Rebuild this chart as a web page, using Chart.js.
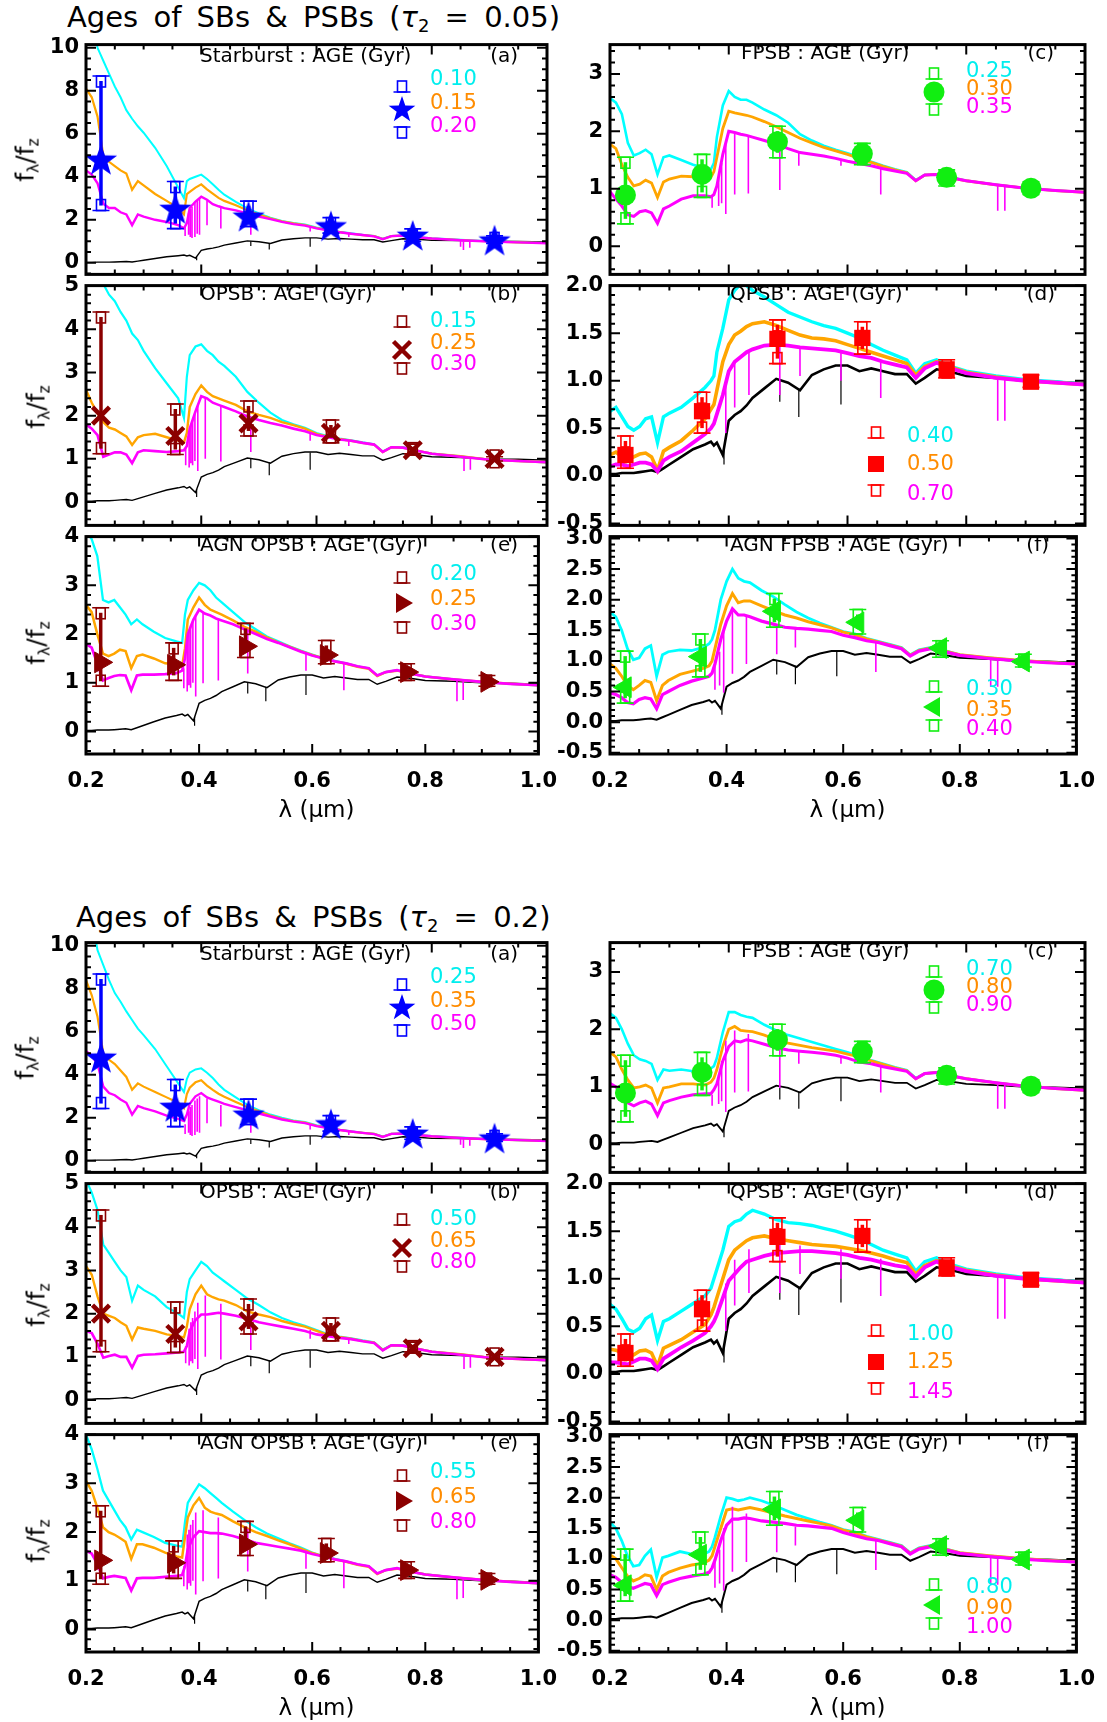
<!DOCTYPE html>
<html>
<head>
<meta charset="utf-8">
<title>Ages of SBs &amp; PSBs</title>
<script src="https://cdn.jsdelivr.net/npm/chart.js@4.4.1/dist/chart.umd.min.js"></script>
<style>
  html, body { margin: 0; padding: 0; background: #fff; }
  body { position: relative; width: 1107px; height: 1722px; overflow: hidden; font-family: "DejaVu Sans", sans-serif; color: #000; }
  canvas { position: absolute; }
  .t { position: absolute; white-space: nowrap; line-height: 1; }
  .t sub { font-size: 0.62em; vertical-align: -0.32em; line-height: 0; }
</style>
</head>
<body>
<script>
// wavelength grid (micron) shared by every spectrum
const LAM = [0.20,0.21,0.22,0.23,0.24,0.25,0.26,0.27,0.28,0.29,0.30,0.32,0.34,0.36,0.37,0.375,0.38,0.39,0.40,0.41,0.42,0.43,0.44,0.46,0.48,0.50,0.52,0.54,0.56,0.58,0.60,0.62,0.64,0.66,0.68,0.70,0.715,0.73,0.75,0.77,0.80,0.85,0.90,0.95,1.00];

// old population (black), same in every panel
const BLACK = [0.02,0.02,0.03,0.03,0.03,0.04,0.05,0.06,0.04,0.08,0.12,0.2,0.28,0.33,0.36,0.32,0.35,0.22,0.58,0.64,0.68,0.74,0.82,0.92,1.02,0.98,0.9,1.06,1.12,1.16,1.16,1.1,1.13,1.1,1.07,1.07,0.97,1.03,1.12,1.1,1.05,1.03,1.0,0.99,0.97];
// absorption lines [lambda, continuum, bottom]
const BLACK_LINES = [[0.392,0.3,0.12],[0.486,1.0,0.78],[0.518,0.92,0.62],[0.589,1.15,0.75]];

// tau2 = 0.05
const SB1_CYAN = [13.0,11.5,10.0,9.4,8.8,8.2,7.7,7.1,6.7,6.35,6.05,5.35,4.5,3.5,3.0,3.8,3.9,4.0,4.1,3.9,3.65,3.4,3.17,2.83,2.53,2.3,2.1,1.95,1.85,1.78,1.64,1.54,1.44,1.37,1.3,1.25,1.12,1.25,1.27,1.21,1.14,1.07,1.0,0.95,0.92];
const SB1_ORANGE = [8.1,7.7,6.8,5.0,4.7,4.5,4.3,4.15,3.4,3.8,3.6,3.2,2.88,2.54,2.25,3.2,3.3,3.5,3.65,3.42,3.22,3.02,2.88,2.68,2.44,2.25,2.07,1.93,1.83,1.76,1.62,1.52,1.43,1.35,1.29,1.24,1.11,1.24,1.26,1.2,1.13,1.06,0.99,0.95,0.92];
const SB1_MAGENTA = [4.3,4.1,3.7,2.75,2.55,2.55,2.35,2.25,1.75,2.25,2.15,2.0,1.9,1.75,1.6,1.85,2.55,2.85,3.07,2.93,2.73,2.63,2.54,2.44,2.3,2.15,2.03,1.9,1.8,1.73,1.6,1.51,1.42,1.35,1.29,1.23,1.1,1.24,1.27,1.2,1.13,1.05,0.99,0.95,0.91];
const OPSB1_CYAN = [6.5,6.0,5.5,5.05,4.8,4.65,4.4,4.2,3.9,3.75,3.5,3.1,2.75,2.4,1.95,2.9,3.4,3.6,3.65,3.5,3.4,3.25,3.15,2.9,2.55,2.3,2.07,1.9,1.8,1.72,1.6,1.52,1.47,1.43,1.38,1.34,1.17,1.27,1.27,1.2,1.12,1.06,0.98,0.95,0.92];
const OPSB1_ORANGE = [2.6,2.3,2.05,1.85,1.72,1.68,1.6,1.52,1.32,1.5,1.55,1.58,1.5,1.42,1.38,1.6,2.2,2.5,2.7,2.55,2.45,2.4,2.35,2.25,2.1,2.02,1.95,1.85,1.78,1.7,1.58,1.51,1.46,1.42,1.37,1.33,1.16,1.27,1.26,1.2,1.12,1.06,0.98,0.95,0.92];
const OPSB1_MAGENTA = [1.8,1.7,1.55,1.05,1.1,1.15,1.15,1.1,0.9,1.15,1.2,1.18,1.16,1.18,1.2,1.3,1.7,2.1,2.45,2.4,2.3,2.25,2.2,2.1,1.98,1.9,1.83,1.77,1.7,1.64,1.55,1.5,1.45,1.42,1.37,1.33,1.16,1.27,1.26,1.2,1.12,1.05,0.98,0.95,0.92];
const AOPSB1_CYAN = [4.1,3.95,3.6,2.7,2.65,2.7,2.55,2.4,2.2,2.3,2.2,2.05,1.92,1.85,1.82,2.4,2.7,2.9,3.05,3.0,2.9,2.75,2.65,2.45,2.25,2.1,1.95,1.85,1.75,1.66,1.58,1.5,1.45,1.4,1.34,1.3,1.15,1.22,1.26,1.2,1.13,1.07,1.02,0.98,0.95];
const AOPSB1_ORANGE = [2.6,2.45,2.0,1.6,1.55,1.6,1.68,1.65,1.3,1.55,1.58,1.5,1.4,1.38,1.35,1.7,2.3,2.55,2.75,2.6,2.5,2.45,2.4,2.28,2.15,2.05,1.93,1.83,1.74,1.65,1.57,1.5,1.44,1.39,1.33,1.29,1.14,1.22,1.25,1.2,1.13,1.07,1.02,0.98,0.95];
const AOPSB1_MAGENTA = [1.8,1.72,1.4,1.05,1.1,1.14,1.16,1.15,0.85,1.15,1.17,1.17,1.18,1.2,1.25,1.5,2.0,2.3,2.5,2.42,2.38,2.32,2.28,2.2,2.1,2.0,1.9,1.82,1.73,1.64,1.56,1.5,1.44,1.4,1.34,1.3,1.15,1.22,1.26,1.2,1.13,1.07,1.02,0.98,0.95];
const FPSB1_CYAN = [2.58,2.5,2.3,1.8,1.58,1.62,1.68,1.6,1.25,1.55,1.58,1.5,1.42,1.36,1.34,1.45,1.9,2.45,2.7,2.6,2.55,2.55,2.5,2.38,2.28,2.15,1.95,1.84,1.75,1.68,1.62,1.55,1.47,1.4,1.34,1.29,1.15,1.24,1.25,1.21,1.14,1.07,1.01,0.97,0.94];
const FPSB1_ORANGE = [1.78,1.7,1.42,1.2,1.05,1.08,1.15,1.1,0.85,1.12,1.17,1.22,1.21,1.17,1.2,1.3,1.55,2.05,2.35,2.32,2.3,2.28,2.25,2.17,2.08,1.98,1.88,1.8,1.72,1.66,1.6,1.53,1.46,1.39,1.33,1.28,1.14,1.24,1.25,1.2,1.14,1.07,1.01,0.97,0.94];
const FPSB1_MAGENTA = [0.95,0.82,0.7,0.55,0.52,0.6,0.62,0.58,0.4,0.65,0.7,0.82,0.88,0.88,0.86,0.9,1.05,1.6,2.0,1.98,1.95,1.93,1.9,1.84,1.78,1.7,1.63,1.6,1.57,1.53,1.48,1.44,1.4,1.35,1.31,1.27,1.14,1.24,1.25,1.2,1.14,1.07,1.01,0.97,0.94];
const QPSB1_CYAN = [0.68,0.72,0.62,0.52,0.48,0.52,0.6,0.62,0.35,0.62,0.66,0.72,0.82,0.93,1.0,1.05,1.3,1.55,1.85,1.95,2.02,2.0,1.95,1.88,1.8,1.72,1.67,1.62,1.58,1.55,1.5,1.45,1.38,1.32,1.27,1.22,1.08,1.18,1.22,1.16,1.1,1.05,1.01,0.99,0.96];
const QPSB1_ORANGE = [0.22,0.25,0.2,0.17,0.2,0.23,0.24,0.2,0.06,0.26,0.3,0.37,0.48,0.6,0.7,0.75,0.9,1.2,1.38,1.48,1.52,1.57,1.6,1.62,1.58,1.53,1.48,1.45,1.44,1.42,1.38,1.34,1.3,1.26,1.22,1.18,1.06,1.15,1.2,1.15,1.09,1.04,1.0,0.98,0.96];
const QPSB1_MAGENTA = [0.1,0.12,0.12,0.1,0.12,0.14,0.14,0.12,0.05,0.16,0.2,0.26,0.35,0.44,0.5,0.55,0.65,0.85,1.1,1.2,1.25,1.3,1.33,1.37,1.38,1.37,1.35,1.34,1.33,1.32,1.29,1.26,1.24,1.2,1.17,1.14,1.03,1.13,1.19,1.14,1.08,1.03,1.0,0.98,0.96];
const AFPSB1_CYAN = [1.8,1.72,1.5,1.2,1.02,1.05,1.2,1.25,0.75,1.1,1.15,1.18,1.17,1.22,1.28,1.35,1.5,2.0,2.3,2.5,2.35,2.3,2.28,2.15,2.05,1.92,1.8,1.7,1.62,1.55,1.48,1.44,1.37,1.32,1.27,1.22,1.1,1.18,1.22,1.18,1.1,1.05,1.01,0.98,0.95];
const AFPSB1_ORANGE = [0.95,0.88,0.75,0.6,0.53,0.6,0.68,0.65,0.35,0.6,0.68,0.78,0.83,0.88,0.92,1.0,1.2,1.6,1.9,2.1,1.95,1.98,1.98,1.9,1.82,1.75,1.7,1.64,1.59,1.54,1.47,1.43,1.36,1.31,1.26,1.21,1.09,1.17,1.21,1.17,1.1,1.05,1.01,0.98,0.95];
const AFPSB1_MAGENTA = [0.48,0.45,0.4,0.32,0.3,0.37,0.4,0.38,0.22,0.45,0.5,0.6,0.67,0.72,0.75,0.8,0.95,1.35,1.65,1.85,1.75,1.75,1.72,1.65,1.6,1.55,1.53,1.52,1.5,1.48,1.42,1.38,1.33,1.3,1.25,1.2,1.08,1.16,1.2,1.16,1.09,1.04,1.0,0.97,0.95];

// tau2 = 0.2
const SB2_CYAN = [13.0,11.3,9.8,9.1,8.4,7.8,7.4,6.95,6.55,6.15,5.85,5.2,4.4,3.6,3.2,3.8,4.1,4.25,4.3,4.1,3.85,3.55,3.3,2.95,2.6,2.35,2.15,2.0,1.88,1.8,1.65,1.55,1.45,1.38,1.31,1.26,1.13,1.26,1.28,1.22,1.15,1.08,1.01,0.96,0.93];
const SB2_ORANGE = [8.4,7.7,6.7,5.0,4.7,4.5,4.2,3.9,3.3,3.6,3.45,3.2,2.95,2.7,2.45,3.1,3.4,3.65,3.75,3.5,3.3,3.12,2.98,2.74,2.5,2.3,2.1,1.95,1.85,1.78,1.63,1.53,1.44,1.36,1.3,1.25,1.12,1.25,1.27,1.21,1.14,1.07,1.0,0.96,0.93];
const SB2_MAGENTA = [5.1,4.9,4.5,3.45,3.15,3.05,2.85,2.7,2.15,2.55,2.45,2.3,2.1,1.95,1.85,2.15,2.65,3.0,3.15,2.95,2.85,2.75,2.65,2.5,2.35,2.2,2.06,1.92,1.82,1.75,1.61,1.52,1.43,1.36,1.3,1.24,1.11,1.25,1.27,1.21,1.14,1.06,1.0,0.96,0.92];
const OPSB2_CYAN = [5.1,4.8,4.4,3.6,3.4,3.2,3.0,2.85,2.3,2.65,2.55,2.4,2.15,2.0,1.9,2.5,2.8,3.0,3.2,3.1,2.95,2.85,2.75,2.55,2.35,2.2,2.03,1.9,1.8,1.72,1.62,1.52,1.47,1.43,1.38,1.34,1.17,1.27,1.27,1.2,1.12,1.06,0.98,0.95,0.92];
const OPSB2_ORANGE = [3.1,2.9,2.4,2.0,1.95,1.9,1.8,1.72,1.4,1.68,1.65,1.6,1.52,1.48,1.45,1.7,2.1,2.45,2.65,2.45,2.38,2.33,2.3,2.2,2.05,1.98,1.92,1.83,1.76,1.7,1.6,1.51,1.46,1.42,1.37,1.33,1.16,1.27,1.26,1.2,1.12,1.06,0.98,0.95,0.92];
const OPSB2_MAGENTA = [1.6,1.55,1.3,0.98,1.02,1.05,1.0,1.0,0.75,1.02,1.05,1.06,1.08,1.1,1.12,1.25,1.6,1.85,1.98,1.98,2.0,2.02,2.0,1.95,1.88,1.8,1.75,1.7,1.65,1.6,1.52,1.48,1.44,1.41,1.36,1.32,1.15,1.27,1.26,1.2,1.12,1.05,0.98,0.95,0.92];
const AOPSB2_CYAN = [4.0,3.7,3.3,2.85,2.65,2.45,2.25,2.1,1.85,2.05,2.0,1.9,1.78,1.72,1.7,2.2,2.6,2.8,2.98,2.9,2.8,2.7,2.6,2.42,2.25,2.1,1.97,1.87,1.77,1.68,1.58,1.5,1.45,1.4,1.34,1.3,1.15,1.22,1.26,1.2,1.13,1.07,1.02,0.98,0.95];
const AOPSB2_ORANGE = [3.05,2.85,2.5,2.1,2.0,1.95,1.88,1.8,1.45,1.75,1.75,1.68,1.58,1.5,1.48,1.9,2.3,2.55,2.7,2.5,2.42,2.38,2.35,2.22,2.1,2.0,1.92,1.83,1.75,1.66,1.57,1.5,1.44,1.39,1.33,1.29,1.14,1.22,1.25,1.2,1.13,1.07,1.02,0.98,0.95];
const AOPSB2_MAGENTA = [1.62,1.56,1.35,1.05,1.08,1.1,1.08,1.06,0.8,1.05,1.06,1.06,1.08,1.1,1.12,1.3,1.65,1.9,2.02,2.0,1.98,1.98,1.97,1.92,1.85,1.78,1.74,1.7,1.66,1.62,1.55,1.5,1.44,1.4,1.34,1.3,1.15,1.22,1.26,1.2,1.13,1.07,1.02,0.98,0.95];
const FPSB2_CYAN = [2.28,2.2,2.0,1.75,1.55,1.48,1.45,1.4,1.12,1.3,1.28,1.3,1.27,1.28,1.32,1.36,1.5,1.95,2.3,2.3,2.25,2.22,2.2,2.08,1.98,1.9,1.84,1.78,1.72,1.66,1.6,1.53,1.46,1.4,1.34,1.29,1.15,1.23,1.25,1.2,1.14,1.07,1.01,0.97,0.94];
const FPSB2_ORANGE = [1.6,1.52,1.3,1.12,0.98,1.0,1.03,0.98,0.72,0.98,1.0,1.05,1.05,1.03,1.08,1.15,1.3,1.7,2.0,2.05,1.98,1.97,1.96,1.9,1.82,1.76,1.72,1.68,1.65,1.62,1.57,1.52,1.45,1.39,1.33,1.28,1.14,1.23,1.25,1.2,1.14,1.07,1.01,0.97,0.94];
const FPSB2_MAGENTA = [1.06,1.0,0.86,0.72,0.67,0.72,0.75,0.7,0.5,0.72,0.76,0.82,0.86,0.88,0.88,0.95,1.05,1.45,1.7,1.8,1.78,1.82,1.8,1.74,1.68,1.64,1.62,1.6,1.58,1.55,1.5,1.43,1.4,1.35,1.31,1.27,1.14,1.23,1.25,1.2,1.14,1.07,1.01,0.97,0.94];
const QPSB2_CYAN = [0.73,0.68,0.58,0.47,0.44,0.48,0.58,0.62,0.35,0.55,0.58,0.66,0.74,0.82,0.9,1.0,1.1,1.3,1.55,1.6,1.62,1.68,1.72,1.68,1.62,1.59,1.58,1.56,1.53,1.5,1.46,1.42,1.36,1.3,1.26,1.22,1.08,1.18,1.22,1.16,1.1,1.05,1.01,0.99,0.96];
const QPSB2_ORANGE = [0.26,0.25,0.22,0.18,0.2,0.24,0.25,0.22,0.08,0.27,0.3,0.36,0.44,0.52,0.62,0.7,0.8,1.0,1.2,1.3,1.35,1.4,1.43,1.45,1.42,1.4,1.38,1.36,1.35,1.34,1.32,1.3,1.27,1.24,1.2,1.17,1.05,1.14,1.19,1.14,1.09,1.04,1.0,0.98,0.96];
const QPSB2_MAGENTA = [0.12,0.12,0.11,0.1,0.13,0.16,0.16,0.14,0.05,0.16,0.2,0.28,0.35,0.43,0.5,0.55,0.62,0.8,0.98,1.05,1.12,1.18,1.2,1.24,1.27,1.28,1.29,1.29,1.28,1.27,1.25,1.22,1.2,1.17,1.14,1.12,1.02,1.12,1.18,1.13,1.08,1.03,1.0,0.98,0.96];
const AFPSB2_CYAN = [1.6,1.5,1.3,1.05,0.88,0.9,1.05,1.15,0.7,1.02,1.05,1.12,1.08,1.07,1.12,1.2,1.35,1.7,2.0,1.98,1.95,1.97,2.0,1.95,1.88,1.8,1.72,1.66,1.6,1.55,1.48,1.44,1.37,1.32,1.27,1.22,1.1,1.18,1.22,1.18,1.1,1.05,1.01,0.98,0.95];
const AFPSB2_ORANGE = [1.07,1.0,0.86,0.72,0.64,0.68,0.74,0.72,0.5,0.72,0.78,0.85,0.9,0.93,0.98,1.05,1.2,1.5,1.8,1.82,1.8,1.82,1.84,1.8,1.75,1.7,1.66,1.62,1.58,1.54,1.47,1.43,1.36,1.31,1.26,1.21,1.09,1.17,1.21,1.17,1.1,1.05,1.01,0.98,0.95];
const AFPSB2_MAGENTA = [0.74,0.7,0.62,0.55,0.52,0.56,0.6,0.58,0.4,0.58,0.62,0.68,0.72,0.75,0.78,0.85,0.98,1.3,1.55,1.65,1.65,1.67,1.66,1.62,1.6,1.58,1.55,1.54,1.52,1.5,1.43,1.38,1.33,1.3,1.25,1.2,1.08,1.16,1.2,1.16,1.09,1.04,1.0,0.97,0.95];

// absorption lines in the magenta spectra [lambda, continuum, bottom]
const SB_LINES = [[0.372,1.7,1.25],[0.378,2.3,1.3],[0.381,2.5,1.2],[0.384,2.6,1.15],[0.389,2.8,1.2],[0.393,2.9,1.35],[0.397,3.0,1.3],[0.41,2.9,1.75],[0.434,2.6,1.6],[0.486,2.28,1.3],[0.589,1.7,1.45],[0.656,1.37,1.2],[0.85,1.06,0.75],[0.855,1.06,0.6],[0.866,1.05,0.7]];
const OPSB_LINES = [[0.373,1.25,0.85],[0.379,1.65,0.8],[0.382,1.8,0.9],[0.385,1.9,0.85],[0.389,2.05,0.95],[0.394,2.25,0.72],[0.407,2.42,1.0],[0.434,2.23,0.94],[0.486,1.96,1.16],[0.589,1.62,1.42],[0.656,1.42,1.3],[0.856,1.05,0.72],[0.867,1.04,0.75]];
const AOPSB_LINES = [[0.373,1.3,0.89],[0.379,1.95,0.82],[0.382,2.05,0.95],[0.385,2.15,0.9],[0.389,2.25,1.0],[0.394,2.4,0.72],[0.407,2.45,0.99],[0.434,2.3,1.05],[0.486,2.07,1.19],[0.589,1.62,1.25],[0.656,1.41,0.85],[0.856,1.07,0.62],[0.867,1.06,0.65]];
const FPSB_LINES = [[0.372,0.86,0.67],[0.383,1.2,0.7],[0.388,1.45,0.75],[0.395,1.8,0.56],[0.41,1.98,0.9],[0.433,1.92,0.92],[0.486,1.76,0.98],[0.518,1.64,1.4],[0.589,1.52,1.4],[0.656,1.36,0.9],[0.853,1.06,0.62],[0.865,1.05,0.62]];
const QPSB_LINES = [[0.395,0.95,0.45],[0.41,1.2,0.72],[0.434,1.31,0.85],[0.486,1.38,0.85],[0.52,1.35,1.05],[0.589,1.31,1.0],[0.656,1.21,0.82],[0.853,1.03,0.58],[0.865,1.02,0.58]];
const AFPSB_LINES = [[0.38,0.95,0.53],[0.388,1.15,0.6],[0.395,1.5,0.48],[0.41,1.85,0.79],[0.434,1.74,0.95],[0.486,1.58,1.11],[0.518,1.53,1.22],[0.656,1.31,0.82],[0.853,1.04,0.58],[0.865,1.03,0.58]];

// photometry: value, lower and upper limits
const OBS_LAM = [0.226,0.355,0.482,0.625,0.767,0.909];
const SB_Y = [4.79,2.5,2.14,1.69,1.25,1.03];
const SB_LO = [2.43,1.59,1.69,1.38,1.0,0.9];
const SB_HI = [8.69,3.78,2.87,2.1,1.58,1.25];
const OPSB_Y = [2.0,1.53,1.82,1.6,1.2,1.0];
const OPSB_LO = [1.12,1.1,1.53,1.37,1.12,0.95];
const OPSB_HI = [4.4,2.27,2.34,1.9,1.34,1.05];
const AOPSB_Y = [1.42,1.37,1.75,1.57,1.22,1.02];
const AOPSB_LO = [0.93,1.05,1.52,1.39,1.05,0.93];
const AOPSB_HI = [2.54,1.82,2.22,1.87,1.39,1.15];
const FPSB_Y = [0.89,1.25,1.82,1.61,1.2,1.01];
const FPSB_LO = [0.39,0.85,1.54,1.42,1.05,0.9];
const FPSB_HI = [1.55,1.6,2.09,1.79,1.33,1.12];
const QPSB_Y = [0.22,0.68,1.44,1.45,1.12,0.99];
const QPSB_LO = [0.08,0.45,1.18,1.28,1.03,0.93];
const QPSB_HI = [0.42,0.88,1.64,1.62,1.22,1.06];
const AFPSB_Y = [0.57,1.07,1.81,1.63,1.21,0.99];
const AFPSB_LO = [0.31,0.74,1.55,1.44,1.06,0.9];
const AFPSB_HI = [1.16,1.44,2.1,1.84,1.33,1.11];

// model ages (Gyr) for cyan, orange, magenta
const SB1_AGES = ['0.10','0.15','0.20'];
const OPSB1_AGES = ['0.15','0.25','0.30'];
const AOPSB1_AGES = ['0.20','0.25','0.30'];
const FPSB1_AGES = ['0.25','0.30','0.35'];
const QPSB1_AGES = ['0.40','0.50','0.70'];
const AFPSB1_AGES = ['0.30','0.35','0.40'];
const SB2_AGES = ['0.25','0.35','0.50'];
const OPSB2_AGES = ['0.50','0.65','0.80'];
const AOPSB2_AGES = ['0.55','0.65','0.80'];
const FPSB2_AGES = ['0.70','0.80','0.90'];
const QPSB2_AGES = ['1.00','1.25','1.45'];
const AFPSB2_AGES = ['0.80','0.90','1.00'];

// tick labels
const X_TICKS = [0.2,0.4,0.6,0.8,1.0];
const Y_TICKS_SB = [0,2,4,6,8,10];
const Y_TICKS_OPSB = [0,1,2,3,4,5];
const Y_TICKS_AOPSB = [0,1,2,3,4];
const Y_TICKS_FPSB = [0,1,2,3];
const Y_TICKS_QPSB = [-0.5,0,0.5,1,1.5,2];
const Y_TICKS_AFPSB = [-0.5,0,0.5,1,1.5,2,2.5,3];

const CYAN = '#00ffff', ORANGE = '#ffa500', MAGENTA = '#ff00ff';
const TXT = { cyan: '#00eeee', orange: '#ff8c00', magenta: '#ff00ff' };
const DARKRED = '#8b0000', GREEN = '#11ee11', BLUE = '#0000ff', RED = '#ff0000';
const TICK_FONT = { family: 'DejaVu Sans', size: 21, weight: 'bold' };

const COL_X = { L: [86, 547], R: [610, 1085] };
const ROW_Y = [[39, 280], [280, 531], [531, 754]];
const BLOCK_DY = [0, 898];

const KINDS = {
  sb:    { col: 'L', row: 0, tag: '(a)', name: 'Starburst : AGE (Gyr)', range: [-0.54, 10.15], ticks: Y_TICKS_SB, dec: 0, minor: 0.5, lw: 2,
           lines: SB_LINES, obs: [SB_Y, SB_LO, SB_HI], mk: 'star', color: BLUE,
           titleX: 200, titleDy: 16, tagR: 518, symX: 402, textX: 430, textDy: [39, 63, 86], symDy: [53, 71, 88], ylab: [25, 121] },
  opsb:  { col: 'L', row: 1, tag: '(b)', name: 'OPSB : AGE (Gyr)', range: [-0.54, 5.01], ticks: Y_TICKS_OPSB, dec: 0, minor: 0.2, lw: 2.2,
           lines: OPSB_LINES, obs: [OPSB_Y, OPSB_LO, OPSB_HI], mk: 'x', color: DARKRED,
           titleX: 200, titleDy: 13, tagR: 518, symX: 402, textX: 430, textDy: [40, 62, 83], symDy: [47, 70, 83], ylab: [36, 127] },
  aopsb: { col: 'L', row: 2, tag: '(e)', name: 'AGN OPSB : AGE (Gyr)', range: [-0.46, 4.0], ticks: Y_TICKS_AOPSB, dec: 0, minor: 0.2, lw: 2.3,
           lines: AOPSB_LINES, obs: [AOPSB_Y, AOPSB_LO, AOPSB_HI], mk: 'right', color: DARKRED,
           titleX: 200, titleDy: 13, tagR: 518, symX: 402, textX: 430, textDy: [42, 67, 92], symDy: [52, 72, 91], ylab: [36, 112] },
  fpsb:  { col: 'R', row: 0, tag: '(c)', name: 'FPSB : AGE (Gyr)', range: [-0.49, 3.51], ticks: Y_TICKS_FPSB, dec: 0, minor: 0.2, lw: 2.6,
           lines: FPSB_LINES, obs: [FPSB_Y, FPSB_LO, FPSB_HI], mk: 'circle', color: GREEN,
           titleX: 741, titleDy: 13, tagR: 1054, symX: 934, textX: 966, textDy: [31, 49, 67], symDy: [40, 53, 65] },
  qpsb:  { col: 'R', row: 1, tag: '(d)', name: 'QPSB : AGE (Gyr)', range: [-0.52, 2.0], ticks: Y_TICKS_QPSB, dec: 1, minor: 0.1, lw: 3.4,
           lines: QPSB_LINES, obs: [QPSB_Y, QPSB_LO, QPSB_HI], mk: 'square', color: RED,
           titleX: 730, titleDy: 13, tagR: 1055, symX: 876, textX: 907, textDy: [155, 183, 213], symDy: [158, 184, 205] },
  afpsb: { col: 'R', row: 2, tag: '(f)', name: 'AGN FPSB : AGE (Gyr)', range: [-0.52, 3.03], ticks: Y_TICKS_AFPSB, dec: 1, minor: 0.1, lw: 2.8,
           lines: AFPSB_LINES, obs: [AFPSB_Y, AFPSB_LO, AFPSB_HI], mk: 'left', color: GREEN,
           titleX: 730, titleDy: 13, tagR: 1049, symX: 934, textX: 966, textDy: [157, 178, 197], symDy: [161, 176, 189] }
};

function starPath(ctx, x, y, R) {
  ctx.beginPath();
  for (let k = 0; k < 10; k++) {
    const a = -Math.PI / 2 + k * Math.PI / 5, rr = k % 2 ? R * 0.4 : R;
    ctx.lineTo(x + rr * Math.cos(a), y + rr * Math.sin(a));
  }
  ctx.closePath();
}

const starImg = document.createElement('canvas');
starImg.width = 36; starImg.height = 36;
(function () {
  const c = starImg.getContext('2d');
  c.fillStyle = BLUE; starPath(c, 18, 19, 17); c.fill();
})();

function markerStyle(mk, color) {
  if (mk === 'star') return { pointStyle: starImg, pointRadius: 17 };
  if (mk === 'x') return { pointStyle: 'crossRot', pointRadius: 12, pointBorderWidth: 4.5, pointBorderColor: color };
  if (mk === 'right') return { pointStyle: 'triangle', pointRotation: 90, pointRadius: 12, pointBackgroundColor: color, pointBorderColor: color, pointBorderWidth: 1 };
  if (mk === 'left') return { pointStyle: 'triangle', pointRotation: -90, pointRadius: 12, pointBackgroundColor: color, pointBorderColor: color, pointBorderWidth: 1 };
  if (mk === 'circle') return { pointStyle: 'circle', pointRadius: 10.5, pointBackgroundColor: color, pointBorderColor: color, pointBorderWidth: 0 };
  return { pointStyle: 'rect', pointRadius: 11.5, pointBackgroundColor: color, pointBorderColor: color, pointBorderWidth: 0 };
}

function legendMarker(ctx, mk, color, x, y) {
  ctx.fillStyle = color; ctx.strokeStyle = color;
  if (mk === 'star') { starPath(ctx, x, y, 14); ctx.fill(); return; }
  if (mk === 'x') {
    ctx.lineWidth = 4.5; ctx.beginPath();
    ctx.moveTo(x - 8.5, y - 8.5); ctx.lineTo(x + 8.5, y + 8.5);
    ctx.moveTo(x + 8.5, y - 8.5); ctx.lineTo(x - 8.5, y + 8.5); ctx.stroke(); return;
  }
  if (mk === 'right' || mk === 'left') {
    const s = mk === 'right' ? 1 : -1;
    ctx.beginPath(); ctx.moveTo(x + s * 11, y); ctx.lineTo(x - s * 6, y - 10); ctx.lineTo(x - s * 6, y + 10); ctx.closePath(); ctx.fill(); return;
  }
  if (mk === 'circle') { ctx.beginPath(); ctx.arc(x, y, 10.5, 0, Math.PI * 2); ctx.fill(); return; }
  ctx.fillRect(x - 8, y - 8, 16, 16);
}

function series(vals) {
  return LAM.map((l, i) => ({ x: l, y: vals[i] }));
}

// vertical line segments separated by gaps
function lineMarks(list) {
  const pts = [];
  list.forEach(d => { pts.push({ x: d[0], y: d[1] }, { x: d[0], y: d[2] }, { x: d[0], y: null }); });
  return pts;
}

function label(html, x, y, css, tf) {
  const d = document.createElement('div');
  d.className = 't';
  d.innerHTML = html;
  d.style.left = x + 'px';
  d.style.top = y + 'px';
  d.style.transform = tf || 'translate(0,-50%)';
  Object.assign(d.style, css || {});
  document.body.appendChild(d);
}

function makePanel(kind, blk, curves, ages, withBlack) {
  const [x0, x1] = COL_X[kind.col];
  const y0 = ROW_Y[kind.row][0] + BLOCK_DY[blk], y1 = ROW_Y[kind.row][1] + BLOCK_DY[blk];
  const bottomRow = kind.row === 2;
  const padL = 75, padR = 25, padT = 14, padB = bottomRow ? 45 : 14;
  const W = x1 - x0 + padL + padR, H = y1 - y0 + padT + padB;
  const ox = x0 - padL, oy = y0 - padT;
  const cv = document.createElement('canvas');
  cv.width = W; cv.height = H;
  cv.style.left = ox + 'px'; cv.style.top = oy + 'px';
  cv.style.width = W + 'px'; cv.style.height = H + 'px';
  document.body.appendChild(cv);

  const [oY, oLo, oHi] = kind.obs;
  const lw = kind.lw;
  const datasets = [
    Object.assign({ data: OBS_LAM.map((l, i) => ({ x: l, y: oY[i] })), showLine: false, errLo: oLo, errHi: oHi,
                    borderColor: kind.color, backgroundColor: kind.color, clip: false }, markerStyle(kind.mk, kind.color)),
    { data: lineMarks(kind.lines), borderColor: MAGENTA, borderWidth: 1.6, pointRadius: 0, spanGaps: false },
    { data: series(curves[2]), borderColor: MAGENTA, borderWidth: lw + 0.4, pointRadius: 0 },
    { data: series(curves[1]), borderColor: ORANGE, borderWidth: lw + 0.2, pointRadius: 0 },
    { data: series(curves[0]), borderColor: CYAN, borderWidth: lw, pointRadius: 0 }
  ];
  if (withBlack) {
    datasets.push({ data: lineMarks(BLACK_LINES), borderColor: '#000', borderWidth: 1.2, pointRadius: 0, spanGaps: false });
    datasets.push({ data: series(BLACK), borderColor: '#000', borderWidth: Math.max(1.4, lw - 0.8), pointRadius: 0 });
  }

  const idl = {
    id: 'idl',
    beforeDatasetDraw(chart, args) {
      const ds = chart.data.datasets[args.index];
      if (!ds.errLo) return;
      const ctx = chart.ctx, xs = chart.scales.x, ys = chart.scales.y;
      ctx.save();
      ctx.strokeStyle = ds.borderColor;
      ds.data.forEach((p, i) => {
        const x = xs.getPixelForValue(p.x), yl = ys.getPixelForValue(ds.errLo[i]), yh = ys.getPixelForValue(ds.errHi[i]);
        ctx.lineWidth = 3.5;
        ctx.beginPath(); ctx.moveTo(x, yh + 5); ctx.lineTo(x, yl - 5); ctx.stroke();
        ctx.lineWidth = 1.6;
        ctx.beginPath();
        ctx.moveTo(x - 8.5, yh); ctx.lineTo(x + 8.5, yh);
        ctx.moveTo(x - 8.5, yl); ctx.lineTo(x + 8.5, yl);
        ctx.stroke();
        ctx.strokeRect(x - 4.5, yh, 9, 11);
        ctx.strokeRect(x - 4.5, yl - 11, 9, 11);
      });
      ctx.restore();
    },
    afterDraw(chart) {
      const ctx = chart.ctx, a = chart.chartArea, xs = chart.scales.x, ys = chart.scales.y;
      ctx.save();
      ctx.strokeStyle = '#000';
      // inward tick marks on all four sides
      ctx.lineWidth = 2;
      const xt = (v, len) => { const p = xs.getPixelForValue(v); ctx.moveTo(p, a.bottom); ctx.lineTo(p, a.bottom - len); ctx.moveTo(p, a.top); ctx.lineTo(p, a.top + len); };
      const yt = (v, len) => { const p = ys.getPixelForValue(v); ctx.moveTo(a.left, p); ctx.lineTo(a.left + len, p); ctx.moveTo(a.right, p); ctx.lineTo(a.right - len, p); };
      ctx.beginPath();
      for (let k = 4; k <= 20; k++) { const v = k * 0.05; xt(v, X_TICKS.some(t => Math.abs(t - v) < 1e-6) ? 10 : 5); }
      const lo = Math.ceil(kind.range[0] / kind.minor - 1e-6), hi = Math.floor(kind.range[1] / kind.minor + 1e-6);
      for (let k = lo; k <= hi; k++) { const v = k * kind.minor; yt(v, kind.ticks.some(t => Math.abs(t - v) < 1e-6) ? 10 : 5); }
      ctx.stroke();
      ctx.lineWidth = 3;
      ctx.strokeRect(a.left, a.top, a.right - a.left, a.bottom - a.top);
      // legend symbols
      const sx = kind.symX - ox, top = y0 - oy;
      ctx.strokeStyle = kind.color; ctx.lineWidth = 1.6;
      const l1 = top + kind.symDy[0], l3 = top + kind.symDy[2];
      ctx.beginPath(); ctx.moveTo(sx - 8.5, l1); ctx.lineTo(sx + 8.5, l1); ctx.moveTo(sx - 8.5, l3); ctx.lineTo(sx + 8.5, l3); ctx.stroke();
      ctx.strokeRect(sx - 4.5, l1 - 11, 9, 11);
      ctx.strokeRect(sx - 4.5, l3, 9, 11);
      legendMarker(ctx, kind.mk, kind.color, sx, top + kind.symDy[1]);
      ctx.restore();
    }
  };

  new Chart(cv, {
    type: 'line',
    data: { datasets },
    options: {
      responsive: false, animation: false, events: [],
      layout: { padding: { left: 0, right: padR, top: padT, bottom: bottomRow ? 0 : padB } },
      plugins: { legend: { display: false }, tooltip: { enabled: false } },
      scales: {
        x: {
          type: 'linear', min: 0.2, max: 1.0, display: bottomRow,
          grid: { display: false, drawTicks: false }, border: { display: false },
          afterBuildTicks: s => { s.ticks = X_TICKS.map(v => ({ value: v })); },
          afterFit: s => { if (bottomRow) s.height = padB; },
          ticks: { padding: 15, font: TICK_FONT, color: '#000', autoSkip: false, maxRotation: 0, callback: v => Number(v).toFixed(1) }
        },
        y: {
          type: 'linear', min: kind.range[0], max: kind.range[1],
          grid: { display: false, drawTicks: false }, border: { display: false },
          afterBuildTicks: s => { s.ticks = kind.ticks.map(v => ({ value: v })); },
          afterFit: s => { s.width = padL; },
          ticks: { padding: 7, font: TICK_FONT, color: '#000', autoSkip: false, callback: v => kind.dec ? Number(v).toFixed(1) : String(v) }
        }
      }
    },
    plugins: [idl]
  });

  // texts
  label(kind.name, kind.titleX, y0 + kind.titleDy, { fontSize: '20px' });
  label(kind.tag, kind.tagR, y0 + kind.titleDy, { fontSize: '20px' }, 'translate(-100%,-50%)');
  const cols = [TXT.cyan, TXT.orange, TXT.magenta];
  ages.forEach((s, i) => label(s, kind.textX, y0 + kind.textDy[i], { fontSize: '21px', color: cols[i] }));
  if (kind.ylab) label('f<sub>λ</sub>/f<sub>z</sub>', kind.ylab[0], y0 + kind.ylab[1], { fontSize: '25px' }, 'translate(-50%,-50%) rotate(-90deg)');
  if (bottomRow) label('λ (μm)', (x0 + x1) / 2, y1 + 55, { fontSize: '23px' }, 'translate(-50%,-50%)');
}

// block 1: tau2 = 0.05
label('Ages of SBs &amp; PSBs (<i>τ</i><sub>2</sub> = 0.05)', 67, 17, { fontSize: '29px', wordSpacing: '6px' });
makePanel(KINDS.sb, 0, [SB1_CYAN, SB1_ORANGE, SB1_MAGENTA], SB1_AGES, true);
makePanel(KINDS.opsb, 0, [OPSB1_CYAN, OPSB1_ORANGE, OPSB1_MAGENTA], OPSB1_AGES, true);
makePanel(KINDS.aopsb, 0, [AOPSB1_CYAN, AOPSB1_ORANGE, AOPSB1_MAGENTA], AOPSB1_AGES, true);
makePanel(KINDS.fpsb, 0, [FPSB1_CYAN, FPSB1_ORANGE, FPSB1_MAGENTA], FPSB1_AGES, false);
makePanel(KINDS.qpsb, 0, [QPSB1_CYAN, QPSB1_ORANGE, QPSB1_MAGENTA], QPSB1_AGES, true);
makePanel(KINDS.afpsb, 0, [AFPSB1_CYAN, AFPSB1_ORANGE, AFPSB1_MAGENTA], AFPSB1_AGES, true);

// block 2: tau2 = 0.2
label('Ages of SBs &amp; PSBs (<i>τ</i><sub>2</sub> = 0.2)', 76, 917, { fontSize: '29px', wordSpacing: '6px' });
makePanel(KINDS.sb, 1, [SB2_CYAN, SB2_ORANGE, SB2_MAGENTA], SB2_AGES, true);
makePanel(KINDS.opsb, 1, [OPSB2_CYAN, OPSB2_ORANGE, OPSB2_MAGENTA], OPSB2_AGES, true);
makePanel(KINDS.aopsb, 1, [AOPSB2_CYAN, AOPSB2_ORANGE, AOPSB2_MAGENTA], AOPSB2_AGES, true);
makePanel(KINDS.fpsb, 1, [FPSB2_CYAN, FPSB2_ORANGE, FPSB2_MAGENTA], FPSB2_AGES, true);
makePanel(KINDS.qpsb, 1, [QPSB2_CYAN, QPSB2_ORANGE, QPSB2_MAGENTA], QPSB2_AGES, true);
makePanel(KINDS.afpsb, 1, [AFPSB2_CYAN, AFPSB2_ORANGE, AFPSB2_MAGENTA], AFPSB2_AGES, true);
</script>
</body>
</html>
